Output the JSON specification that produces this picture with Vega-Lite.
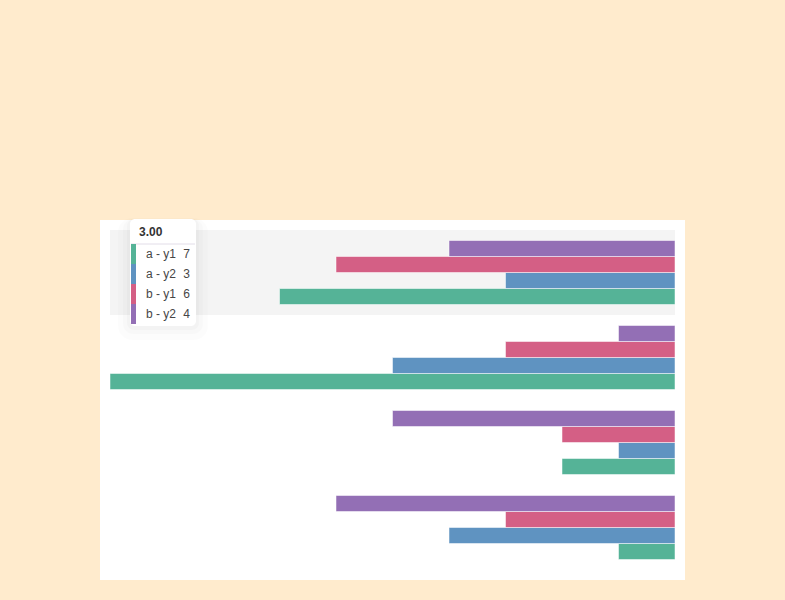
{
  "$schema": "https://vega.github.io/schema/vega-lite/v6.json",
  "width": 585,
  "height": 360,
  "autosize": {"type": "none"},
  "padding": {"left": 100, "top": 220, "right": 100, "bottom": 20},
  "background": "#FFEBCD",
  "view": {"fill": "#ffffff", "stroke": null},
  "config": {"font": "Liberation Sans"},
  "data": {
    "values": [
      {"category": "3", "series": "a - y1", "value": 7},
      {"category": "3", "series": "a - y2", "value": 3},
      {"category": "3", "series": "b - y1", "value": 6},
      {"category": "3", "series": "b - y2", "value": 4},
      {"category": "2", "series": "a - y1", "value": 10},
      {"category": "2", "series": "a - y2", "value": 5},
      {"category": "2", "series": "b - y1", "value": 3},
      {"category": "2", "series": "b - y2", "value": 1},
      {"category": "1", "series": "a - y1", "value": 2},
      {"category": "1", "series": "a - y2", "value": 1},
      {"category": "1", "series": "b - y1", "value": 2},
      {"category": "1", "series": "b - y2", "value": 5},
      {"category": "0", "series": "a - y1", "value": 1},
      {"category": "0", "series": "a - y2", "value": 4},
      {"category": "0", "series": "b - y1", "value": 3},
      {"category": "0", "series": "b - y2", "value": 6}
    ]
  },
  "layer": [
    {
      "layer": [
        {
          "data": {"values": [{"category": "3"}]},
          "mark": {"type": "rect", "fill": "#f4f4f4"},
          "encoding": {
            "y": {"field": "category", "type": "nominal", "scale": {"type": "band", "domain": ["3", "2", "1", "0"], "range": [10, 350], "paddingInner": 0, "paddingOuter": 0}, "axis": null},
            "x": {"datum": 0, "type": "quantitative", "scale": {"domain": [0, 10], "range": [575, 10]}, "axis": null},
            "x2": {"datum": 10}
          }
        },
        {
          "mark": {"type": "bar", "stroke": "#ffffff", "strokeOpacity": 0.5, "strokeWidth": 1},
          "encoding": {
            "y": {"field": "category", "type": "nominal", "axis": null},
            "yOffset": {"field": "series", "type": "nominal", "scale": {"domain": ["b - y2", "b - y1", "a - y2", "a - y1"], "paddingInner": 0, "paddingOuter": 0.65625}},
            "x": {"field": "value", "type": "quantitative", "axis": null},
            "color": {"field": "series", "type": "nominal", "scale": {"domain": ["a - y1", "a - y2", "b - y1", "b - y2"], "range": ["#55b397", "#5f93c1", "#d45f85", "#936fb5"]}, "legend": null}
          }
        }
      ]
    },
    {
      "layer": [
        {
          "data": {"values": [{}]},
          "mark": {"type": "rect", "fill": "#000000", "opacity": 0.012, "cornerRadius": 14, "xOffset": -12, "x2Offset": 12, "yOffset": -6, "y2Offset": 16},
          "encoding": {
            "x": {"datum": 9.646},
            "x2": {"datum": 8.478},
            "y": {"datum": "3.00", "type": "nominal", "bandPosition": 0, "scale": {"type": "band", "domain": ["3.00", "a - y1", "a - y2", "b - y1", "b - y2"], "range": [4, 104], "paddingInner": 0, "paddingOuter": 0}, "axis": null},
            "y2": {"datum": "b - y2", "bandPosition": 1}
          }
        },
        {
          "data": {"values": [{}]},
          "mark": {"type": "rect", "fill": "#000000", "opacity": 0.015, "cornerRadius": 10, "xOffset": -7, "x2Offset": 7, "yOffset": -5, "y2Offset": 10},
          "encoding": {
            "x": {"datum": 9.646},
            "x2": {"datum": 8.478},
            "y": {"datum": "3.00", "type": "nominal", "bandPosition": 0},
            "y2": {"datum": "b - y2", "bandPosition": 1}
          }
        },
        {
          "data": {"values": [{}]},
          "mark": {"type": "rect", "fill": "#000000", "opacity": 0.02, "cornerRadius": 7, "xOffset": -3, "x2Offset": 3, "yOffset": -5, "y2Offset": 6},
          "encoding": {
            "x": {"datum": 9.646},
            "x2": {"datum": 8.478},
            "y": {"datum": "3.00", "type": "nominal", "bandPosition": 0},
            "y2": {"datum": "b - y2", "bandPosition": 1}
          }
        },
        {
          "data": {"values": [{}]},
          "mark": {"type": "rect", "fill": "#ffffff", "cornerRadius": 5, "yOffset": -5, "y2Offset": 2},
          "encoding": {
            "x": {"datum": 9.646},
            "x2": {"datum": 8.478},
            "y": {"datum": "3.00", "type": "nominal", "bandPosition": 0},
            "y2": {"datum": "b - y2", "bandPosition": 1}
          }
        },
        {
          "data": {"values": [{}]},
          "mark": {"type": "rule", "stroke": "#e2dde8", "strokeWidth": 1},
          "encoding": {
            "x": {"datum": 9.628},
            "x2": {"datum": 8.496},
            "y": {"datum": "a - y1", "type": "nominal", "bandPosition": 0}
          }
        },
        {
          "data": {"values": [{}]},
          "mark": {"type": "text", "text": "3.00", "fontWeight": "bold", "fontSize": 12, "color": "#333333", "align": "left", "baseline": "middle", "dy": -2},
          "encoding": {
            "x": {"datum": 9.487},
            "y": {"datum": "3.00", "type": "nominal", "bandPosition": 0.5}
          }
        },
        {
          "transform": [{"filter": "datum.category == '3'"}],
          "mark": {"type": "rect"},
          "encoding": {
            "x": {"datum": 9.628},
            "x2": {"datum": 9.540},
            "y": {"field": "series", "type": "nominal"},
            "color": {"field": "series", "type": "nominal", "legend": null}
          }
        },
        {
          "transform": [{"filter": "datum.category == '3'"}],
          "mark": {"type": "text", "fontSize": 12, "color": "#464646", "align": "left", "baseline": "middle"},
          "encoding": {
            "x": {"datum": 9.363},
            "y": {"field": "series", "type": "nominal", "bandPosition": 0.5},
            "text": {"field": "series", "type": "nominal"}
          }
        },
        {
          "transform": [{"filter": "datum.category == '3'"}],
          "mark": {"type": "text", "fontSize": 12, "color": "#464646", "align": "right", "baseline": "middle"},
          "encoding": {
            "x": {"datum": 8.584},
            "y": {"field": "series", "type": "nominal", "bandPosition": 0.5},
            "text": {"field": "value", "type": "quantitative"}
          }
        }
      ]
    }
  ],
  "resolve": {"scale": {"y": "independent"}}
}
